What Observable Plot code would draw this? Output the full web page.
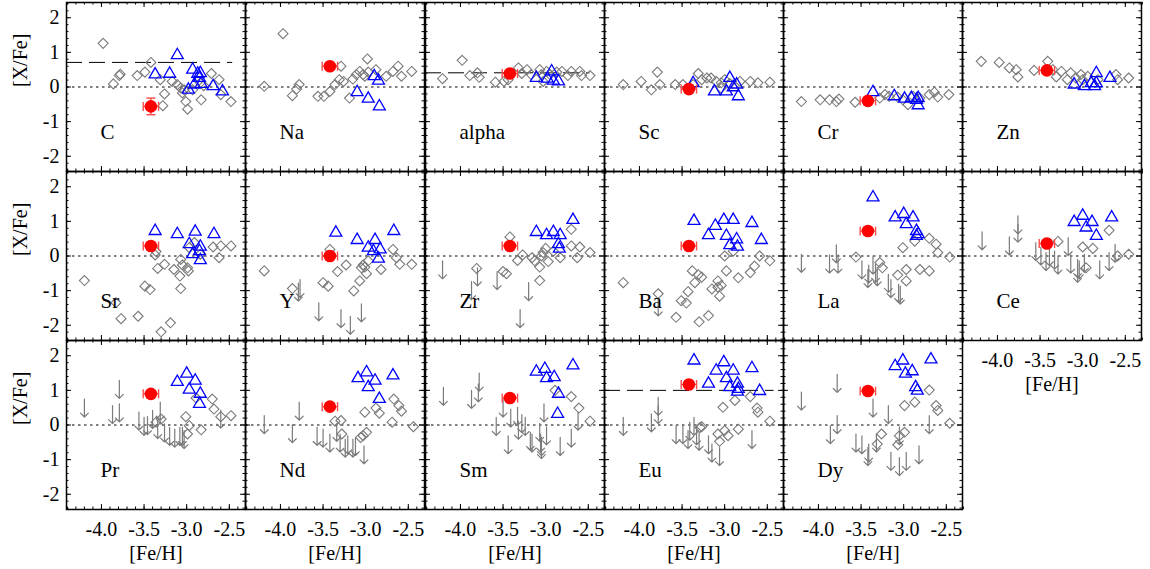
<!DOCTYPE html>
<html><head><meta charset="utf-8">
<script src="https://cdn.jsdelivr.net/npm/d3@7"></script>
<script src="https://cdn.jsdelivr.net/npm/@observablehq/plot@0.6"></script>
<style>
body{margin:0;background:#fff;}
#chart{position:relative;width:1150px;height:569px;overflow:hidden;background:#fff;}
#chart svg, #chart svg text{font-family:"Liberation Serif","Times New Roman",Times,serif !important;}
</style></head><body><div id="chart"></div>
<script>
// ---- data: [ [Fe/H], [X/Fe] ] ----
const elements = ["C","Na","alpha","Sc","Cr","Zn","Sr","Y","Zr","Ba","La","Ce","Pr","Nd","Sm","Eu","Dy"];

// the program star (red)
const starFeH = [-3.42,-3.42,-3.42,-3.42,-3.42,-3.42,-3.42,-3.42,-3.42,-3.42,-3.42,-3.42,-3.42,-3.42,-3.42,-3.42,-3.42];
const starXFe = [-0.56,0.60,0.39,-0.06,-0.40,0.48,0.29,0.00,0.29,0.29,0.72,0.36,0.90,0.53,0.78,1.17,0.98];
const starErrFeH = [0.09,0.09,0.09,0.09,0.09,0.09,0.09,0.09,0.09,0.09,0.09,0.09,0.09,0.09,0.09,0.09,0.09];
const starErrXFe = [0.24,0,0,0,0,0,0,0,0,0,0,0,0,0,0,0,0];

// dashed reference levels: element, [X/Fe], [Fe/H] end
const refElem = ["C","alpha","Eu"];
const refXFe = [0.71,0.41,1.0];
const refFeHEnd = [-2.46,-2.48,-2.42];

// comparison stars (grey diamonds), r-rich stars (blue triangles), upper limits (grey arrows)
const C_cmp = [[-3.98,1.26],[-3.86,0.09],[-3.79,0.33],[-3.78,0.37],[-3.58,0.33],[-3.49,0.43],[-3.42,0.71],[-3.31,0.21],[-3.26,-0.2],[-3.28,-0.54],[-3.17,0.16],[-3.11,0.07],[-3.07,-0.03],[-3.05,-0.17],[-3.03,-0.08],[-3.01,-0.42],[-2.99,-0.64],[-2.93,-0.08],[-2.83,-0.37],[-2.8,0.04],[-2.71,0.39],[-2.62,0.21],[-2.6,-0.22],[-2.48,-0.42],[-2.84,0.12]];
const C_tri = [[-3.37,0.41],[-3.2,0.43],[-3.11,0.97],[-2.98,-0.03],[-2.93,0.55],[-2.87,0.43],[-2.84,0.45],[-2.85,0.31],[-2.91,0.12],[-2.83,0.14],[-2.69,0.07],[-2.58,-0.08]];
const C_lim = [];

const Na_cmp = [[-3.97,1.54],[-4.19,0.02],[-3.86,-0.25],[-3.81,-0.06],[-3.78,0.07],[-3.56,-0.27],[-3.49,-0.27],[-3.42,-0.13],[-3.36,0.07],[-3.31,0.21],[-3.26,0.16],[-3.19,-0.32],[-3.15,0.23],[-3.07,0.45],[-3.03,0.36],[-3.01,0.31],[-2.98,0.81],[-2.97,0.43],[-2.88,0.5],[-2.76,0.31],[-2.68,0.45],[-2.62,0.6],[-2.58,0.31],[-2.46,0.45],[-3.29,0.6],[-3.11,0.36]];
const Na_tri = [[-3.1,-0.1],[-2.97,-0.29],[-2.9,0.36],[-2.85,0.23],[-2.84,-0.51]];
const Na_lim = [];

const alpha_cmp = [[-4.21,0.24],[-3.98,0.77],[-3.89,0.33],[-3.8,0.41],[-3.78,0.28],[-3.59,0.14],[-3.49,0.16],[-3.44,0.21],[-3.32,0.55],[-3.28,0.39],[-3.22,0.5],[-3.17,0.36],[-3.07,0.5],[-3.05,0.36],[-3.03,0.16],[-2.99,0.45],[-2.95,0.36],[-2.87,0.43],[-2.81,0.45],[-2.74,0.33],[-2.7,0.45],[-2.6,0.45],[-2.58,0.33],[-2.48,0.33]];
const alpha_tri = [[-3.11,0.31],[-2.98,0.29],[-2.93,0.5],[-2.91,0.23],[-2.85,0.21]];
const alpha_lim = [];

const Sc_cmp = [[-4.19,0.07],[-3.98,0.16],[-3.86,-0.08],[-3.79,0.43],[-3.76,0.07],[-3.58,0.07],[-3.49,0.07],[-3.37,0.07],[-3.31,0.39],[-3.27,0.21],[-3.21,0.26],[-3.16,0.26],[-3.1,0.16],[-3.04,0.12],[-3.0,0.21],[-2.94,0.1],[-2.82,0.16],[-2.7,0.16],[-2.61,0.12],[-2.47,0.14],[-3.04,-0.03]];
const Sc_tri = [[-3.37,0.16],[-3.12,-0.08],[-2.98,-0.08],[-2.94,0.31],[-2.9,0.04],[-2.86,0.12],[-2.84,-0.22]];
const Sc_lim = [];

const Cr_cmp = [[-4.2,-0.42],[-3.98,-0.37],[-3.87,-0.37],[-3.79,-0.42],[-3.76,-0.35],[-3.57,-0.44],[-3.28,-0.32],[-3.22,-0.22],[-3.17,-0.27],[-3.07,-0.29],[-3.01,-0.37],[-2.95,-0.51],[-2.89,-0.27],[-2.81,-0.32],[-2.7,-0.22],[-2.64,-0.15],[-2.6,-0.29],[-2.47,-0.22]];
const Cr_tri = [[-3.36,-0.1],[-3.11,-0.22],[-2.99,-0.29],[-2.91,-0.27],[-2.85,-0.32],[-2.83,-0.48],[-2.83,-0.27]];
const Cr_lim = [];

const Zn_cmp = [[-4.19,0.74],[-3.98,0.71],[-3.86,0.55],[-3.78,0.5],[-3.76,0.29],[-3.57,0.48],[-3.41,0.74],[-3.35,0.5],[-3.31,0.29],[-3.25,0.45],[-3.18,0.21],[-3.14,0.41],[-3.08,0.26],[-3.02,0.36],[-3.0,0.21],[-2.94,0.31],[-2.82,0.21],[-2.61,0.36],[-2.59,0.21],[-2.46,0.26]];
const Zn_tri = [[-3.1,0.12],[-2.98,0.07],[-2.9,0.16],[-2.86,0.07],[-2.84,0.45],[-2.84,0.16],[-2.68,0.31]];
const Zn_lim = [];

const Sr_cmp = [[-4.2,-0.71],[-3.83,-1.35],[-3.77,-1.81],[-3.57,-1.74],[-3.49,-0.87],[-3.43,-0.97],[-3.36,0.13],[-3.37,0.03],[-3.34,-0.36],[-3.26,-0.24],[-3.3,-2.19],[-3.19,-1.93],[-3.15,-0.39],[-3.08,-0.58],[-3.07,-0.94],[-3.05,-0.26],[-3.07,-0.1],[-2.99,-0.34],[-2.98,-0.43],[-2.97,0.24],[-2.91,0.39],[-2.84,0.05],[-2.69,0.26],[-2.62,-0.05],[-2.6,0.29],[-2.48,0.29]];
const Sr_tri = [[-3.37,0.77],[-3.11,0.68],[-2.9,0.75],[-2.97,0.39],[-2.84,0.32],[-2.85,0.19],[-2.93,0.1],[-2.84,-0.07],[-2.68,0.68]];
const Sr_lim = [];

const Y_cmp = [[-4.19,-0.43],[-3.86,-0.94],[-3.5,-0.77],[-3.44,-0.87],[-3.42,0.19],[-3.33,-0.45],[-3.23,-0.26],[-3.14,-1.01],[-3.07,-0.72],[-3.05,-0.34],[-3.03,-0.26],[-2.99,-0.51],[-2.97,-0.14],[-2.82,-0.39],[-2.68,0.19],[-2.64,-0.05],[-2.6,-0.24],[-2.46,-0.24],[-3.01,-0.32]];
const Y_tri = [[-3.35,0.72],[-3.1,0.51],[-2.97,0.29],[-2.89,0.51],[-2.91,0.19],[-2.83,0.24],[-2.85,-0.03],[-2.67,0.77]];
const Y_lim = [[-3.77,-0.68],[-3.79,-0.78],[-3.55,-1.35],[-3.29,-1.55],[-3.18,-1.74],[-3.05,-1.38]];

const Zr_cmp = [[-3.81,-0.36],[-3.5,-0.45],[-3.46,-0.51],[-3.42,0.55],[-3.33,-0.13],[-3.27,0.03],[-3.16,-0.05],[-3.13,-0.14],[-3.07,-0.71],[-3.07,-0.32],[-3.05,0],[-3.03,0.1],[-3.0,0.22],[-2.97,-0.16],[-2.91,0.14],[-2.83,-0.05],[-2.7,0.77],[-2.7,0.29],[-2.63,-0.05],[-2.6,0.26],[-2.48,0.1]];
const Zr_tri = [[-3.11,0.74],[-2.99,0.65],[-2.91,0.74],[-2.83,0.65],[-2.85,0.39],[-2.84,0.26],[-2.68,1.09]];
const Zr_lim = [[-4.21,-0.14],[-3.87,-0.74],[-3.8,-0.34],[-3.57,-0.45],[-3.2,-0.77],[-3.3,-1.55]];

const Ba_cmp = [[-4.19,-0.77],[-3.78,-1.09],[-3.57,-1.77],[-3.51,-1.29],[-3.45,-1.36],[-3.43,-1.03],[-3.38,-0.43],[-3.35,-0.77],[-3.31,-0.54],[-3.27,-0.61],[-3.3,-1.9],[-3.19,-1.72],[-3.15,-0.95],[-3.08,-0.72],[-3.08,-0.9],[-3.06,-1.16],[-3.04,-0.85],[-3.0,0],[-2.98,-0.43],[-2.9,0.14],[-2.84,-0.63],[-2.7,-0.48],[-2.65,-0.29],[-2.59,0],[-2.47,-0.14]];
const Ba_tri = [[-3.36,1.06],[-3.19,0.65],[-3.11,0.92],[-3.01,1.09],[-2.9,1.09],[-2.98,0.63],[-2.94,0.36],[-2.86,0.53],[-2.85,0.32],[-2.68,1.0],[-2.57,0.51]];
const Ba_lim = [[-3.78,-1.21]];

const La_cmp = [[-3.56,-0.03],[-3.28,-0.19],[-3.25,-0.34],[-3.07,-0.55],[-3.01,0.24],[-2.97,-0.39],[-2.97,-0.72],[-2.87,0.43],[-2.81,-0.39],[-2.7,0.51],[-2.7,-0.43],[-2.62,0.34],[-2.6,0.1],[-2.46,-0.03]];
const La_tri = [[-3.36,1.74],[-3.1,1.16],[-3.0,1.26],[-2.89,1.16],[-2.97,0.97],[-2.85,0.77],[-2.85,0.63],[-2.83,0.68]];
const La_lim = [[-4.2,0.05],[-3.87,0.03],[-3.79,0.32],[-3.77,0.03],[-3.49,-0.14],[-3.41,-0.26],[-3.42,-0.39],[-3.36,0],[-3.33,-0.24],[-3.31,-0.34],[-3.18,-0.53],[-3.15,-0.68],[-3.06,-0.82],[-3.04,-0.87]];

const Ce_cmp = [[-3.29,0.42],[-3.0,0.26],[-2.88,0.22],[-2.96,-0.34],[-2.69,0.74],[-2.59,0],[-2.46,0.05]];
const Ce_tri = [[-3.1,1.03],[-3.0,1.21],[-2.96,0.87],[-2.89,1.03],[-2.84,0.63],[-2.66,1.16]];
const Ce_lim = [[-4.18,0.7],[-3.86,0.55],[-3.76,1.16],[-3.76,0.92],[-3.55,0.39],[-3.49,0.26],[-3.43,0.1],[-3.39,0.24],[-3.33,0.14],[-3.29,0],[-3.17,0.53],[-3.14,0.03],[-3.06,-0.24],[-3.06,-0.1],[-3.04,-0.14],[-2.98,0.05],[-2.8,-0.14],[-2.69,0.1],[-2.62,0.34]];

const Pr_cmp = [[-3.36,0.08],[-3.3,0.17],[-3.01,0.24],[-2.97,-0.02],[-2.99,-0.26],[-2.89,0.78],[-2.83,-0.14],[-2.7,0.75],[-2.68,0.46],[-2.6,0.24],[-2.48,0.27]];
const Pr_tri = [[-3.11,1.29],[-3.0,1.53],[-2.97,1.07],[-2.9,1.33],[-2.84,0.95],[-2.85,0.66]];
const Pr_lim = [[-4.2,0.75],[-3.87,0.56],[-3.79,0.61],[-3.79,1.29],[-3.56,0.37],[-3.5,0.22],[-3.46,0.24],[-3.4,0.42],[-3.34,0.13],[-3.31,0.66],[-3.26,0.03],[-3.2,-0.07],[-3.14,-0.12],[-3.08,-0.07],[-3.05,-0.07],[-3.03,-0.16],[-2.6,0.43]];

const Nd_cmp = [[-3.36,0.11],[-3.29,0.13],[-3.28,-0.26],[-3.06,-0.36],[-3.03,-0.31],[-2.99,-0.21],[-3.01,0.37],[-2.88,0.49],[-2.84,0.34],[-2.69,0.08],[-2.67,0.75],[-2.61,0.56],[-2.58,0.4],[-2.44,-0.05]];
const Nd_tri = [[-3.09,1.4],[-2.99,1.57],[-2.97,1.14],[-2.89,1.33],[-2.84,0.8],[-2.68,1.48]];
const Nd_lim = [[-4.19,0.27],[-3.86,0.01],[-3.78,0.66],[-3.57,-0.07],[-3.5,-0.12],[-3.42,-0.26],[-3.34,0.05],[-3.3,-0.26],[-3.24,-0.41],[-3.21,-0.31],[-3.15,-0.41],[-3.12,-0.36],[-3.02,-0.6]];

const Sm_cmp = [[-2.89,1.0],[-2.7,0.82],[-2.61,0.49],[-2.48,0.11]];
const Sm_tri = [[-3.11,1.59],[-3.01,1.67],[-2.99,1.4],[-2.9,1.43],[-2.85,0.95],[-2.86,0.37],[-2.68,1.77]];
const Sm_lim = [[-4.2,1.09],[-3.87,1.0],[-3.79,1.19],[-3.78,1.5],[-3.58,0.22],[-3.5,0.75],[-3.44,-0.31],[-3.41,0.46],[-3.33,0.51],[-3.32,0.11],[-3.28,0.3],[-3.24,0.22],[-3.18,-0.21],[-3.16,-0.26],[-3.07,0.05],[-3.06,-0.26],[-3.05,-0.36],[-3.02,0.61],[-2.99,-0.05],[-2.83,-0.36],[-2.7,-0.12],[-2.62,0.37],[-3.05,-0.45]];

const Eu_cmp = [[-3.29,-0.07],[-3.27,-0.05],[-3.08,-0.26],[-3.06,-0.47],[-3.02,0.51],[-3.0,-0.16],[-2.96,-0.31],[-2.88,0.71],[-2.84,-0.12],[-2.7,0.82],[-2.62,0.49],[-2.61,0.37],[-2.47,0.11]];
const Eu_tri = [[-3.36,1.91],[-3.19,1.24],[-3.1,1.62],[-3.01,1.86],[-2.98,1.4],[-2.9,1.62],[-2.94,1.14],[-2.85,1.24],[-2.85,1.01],[-2.84,1.09],[-2.68,1.69],[-2.59,1.03]];
const Eu_lim = [[-4.19,0.22],[-3.86,0.32],[-3.78,0.8],[-3.78,0.56],[-3.57,-0.02],[-3.49,-0.02],[-3.43,-0.16],[-3.41,0.08],[-3.36,0.22],[-3.33,-0.05],[-3.3,-0.21],[-3.19,-0.31],[-3.15,-0.55],[-3.06,-0.65],[-2.68,-0.16]];

const Dy_cmp = [[-3.26,-0.26],[-3.31,-0.55],[-3.07,-0.57],[-3.05,-0.31],[-2.99,-0.21],[-2.99,0.56],[-2.87,0.66],[-2.7,1.01],[-2.62,0.56],[-2.6,0.42],[-2.46,0.05]];
const Dy_tri = [[-3.1,1.75],[-3.01,1.91],[-2.98,1.53],[-2.9,1.6],[-2.86,1.14],[-2.84,1.04],[-2.68,1.94]];
const Dy_lim = [[-4.2,0.95],[-3.86,-0.02],[-3.78,1.46],[-3.78,0.27],[-3.56,-0.26],[-3.49,-0.31],[-3.42,-0.65],[-3.41,-0.55],[-3.36,0.75],[-3.32,-0.26],[-3.18,0.56],[-3.15,-0.79],[-3.05,-0.94],[-3.05,-0.05],[-2.97,-0.79],[-2.82,-0.6],[-2.7,0.27]];

// axis ticks
const xTickValues = [-4.0,-3.5,-3.0,-2.5];
const yTickValues = [-2,-1,0,1,2];
const xLabel = "[Fe/H]";
const yLabel = "[X/Fe]";

const comparison = [C_cmp,Na_cmp,alpha_cmp,Sc_cmp,Cr_cmp,Zn_cmp,Sr_cmp,Y_cmp,Zr_cmp,Ba_cmp,La_cmp,Ce_cmp,Pr_cmp,Nd_cmp,Sm_cmp,Eu_cmp,Dy_cmp];
const rrich = [C_tri,Na_tri,alpha_tri,Sc_tri,Cr_tri,Zn_tri,Sr_tri,Y_tri,Zr_tri,Ba_tri,La_tri,Ce_tri,Pr_tri,Nd_tri,Sm_tri,Eu_tri,Dy_tri];
const limits = [C_lim,Na_lim,alpha_lim,Sc_lim,Cr_lim,Zn_lim,Sr_lim,Y_lim,Zr_lim,Ba_lim,La_lim,Ce_lim,Pr_lim,Nd_lim,Sm_lim,Eu_lim,Dy_lim];

// ---- layout ----
const XD = [-4.41, -2.31], YD = [-2.44, 2.44];
const colX = [66, 245, 425, 604, 783, 962], rowY = [2, 171, 340];
const PW = 179, PH = 169;
const FONT = '"Liberation Serif","Times New Roman",Times,serif';
const grey = "#7a7a7a", blue = "#0000ff", red = "#ff0000", errRed = "#ff4a4a";
const xMinor = d3.range(-44, -22).map(d => d / 10);
const yMinor = d3.range(-12, 13).map(d => d / 5);
const chart = document.getElementById("chart");

elements.forEach((el, i) => {
  const col = i % 6, row = Math.floor(i / 6);
  const showY = col === 0;
  const showX = row === 2 || el === "Ce";
  const ml = showY ? 70 : 2, mr = 2, mt = 2, mb = showX ? 62 : 2;
  const pxX = (XD[1] - XD[0]) / PW, pxY = (YD[1] - YD[0]) / PH;
  const pts = a => a.map(([x, y]) => ({x, y}));
  const star = [{x: starFeH[i], y: starXFe[i], ex: starErrFeH[i], ey: starErrXFe[i]}];
  const caps = star.flatMap(d => [{x: d.x - d.ex, y: d.y}, {x: d.x + d.ex, y: d.y}]);
  const refs = refElem.map((e, k) => ({e, y: refXFe[k], x2: refFeHEnd[k]})).filter(d => d.e === el);

  const marks = [
    // inward ticks (IDL style) on all four sides
    Plot.tickX(xTickValues, {x: d => d, insetTop: PH - 5, stroke: "black", strokeWidth: 1}),
    Plot.tickX(xTickValues, {x: d => d, insetBottom: PH - 5, stroke: "black", strokeWidth: 1}),
    Plot.tickX(xMinor, {x: d => d, insetTop: PH - 2.5, stroke: "black", strokeWidth: 1}),
    Plot.tickX(xMinor, {x: d => d, insetBottom: PH - 2.5, stroke: "black", strokeWidth: 1}),
    Plot.tickY(yTickValues, {y: d => d, insetRight: PW - 5, stroke: "black", strokeWidth: 1}),
    Plot.tickY(yTickValues, {y: d => d, insetLeft: PW - 5, stroke: "black", strokeWidth: 1}),
    Plot.tickY(yMinor, {y: d => d, insetRight: PW - 2.5, stroke: "black", strokeWidth: 1}),
    Plot.tickY(yMinor, {y: d => d, insetLeft: PW - 2.5, stroke: "black", strokeWidth: 1}),
    Plot.ruleY([0], {stroke: "black", strokeWidth: 1, strokeDasharray: "2.5,3.5"}),
    Plot.ruleY(refs, {y: "y", x1: XD[0], x2: "x2", stroke: "black", strokeWidth: 1, strokeDasharray: "16,7"}),
    Plot.dot(pts(comparison[i]), {x: "x", y: "y", symbol: "diamond2", r: 4.5, stroke: grey, strokeWidth: 1.1}),
    Plot.vector(pts(limits[i]), {x: "x", y: "y", rotate: 180, length: 18, anchor: "start", r: 3.8, stroke: grey, strokeWidth: 1.2}),
    Plot.dot(pts(rrich[i]), {x: "x", y: "y", symbol: "triangle2", r: 5.7, dy: 1.7, stroke: blue, strokeWidth: 1.3}),
    // red star with error bars
    Plot.link(star, {x1: d => d.x - d.ex, x2: d => d.x + d.ex, y1: "y", y2: "y", stroke: errRed, strokeWidth: 1.4}),
    Plot.link(caps, {x1: "x", x2: "x", y1: d => d.y - 4.5 * pxY, y2: d => d.y + 4.5 * pxY, stroke: errRed, strokeWidth: 1.4}),
    Plot.link(star.filter(d => d.ey > 0), {x1: "x", x2: "x", y1: d => d.y - d.ey, y2: d => d.y + d.ey, stroke: errRed, strokeWidth: 1.4}),
    Plot.link(star.filter(d => d.ey > 0).flatMap(d => [d.y - d.ey, d.y + d.ey].map(y => ({x: d.x, y}))), {x1: d => d.x - 4.5 * pxX, x2: d => d.x + 4.5 * pxX, y1: "y", y2: "y", stroke: errRed, strokeWidth: 1.4}),
    Plot.dot(star, {x: "x", y: "y", r: 6.3, fill: red}),
    Plot.text([{t: el, y: -1.5}], {y: "y", text: "t", frameAnchor: "left", dx: 34, textAnchor: "start", lineAnchor: "bottom", fontSize: 21, fontFamily: FONT, fill: "black"}),
    Plot.frame({stroke: "black", strokeWidth: 1.5})
  ];
  if (showY) {
    marks.push(
      Plot.text(yTickValues, {y: d => d, text: d => String(d), frameAnchor: "left", dx: -7, textAnchor: "end", fontSize: 20, fontFamily: FONT, fill: "black"}),
      Plot.text([yLabel], {frameAnchor: "left", dx: -46, rotate: -90, fontSize: 20, fontFamily: FONT, fill: "black"})
    );
  }
  if (showX) {
    marks.push(
      Plot.text(xTickValues, {x: d => d, text: d => d.toFixed(1), frameAnchor: "bottom", dy: 12, lineAnchor: "top", fontSize: 20, fontFamily: FONT, fill: "black"}),
      Plot.text([xLabel], {frameAnchor: "bottom", dy: 36, lineAnchor: "top", fontSize: 20, fontFamily: FONT, fill: "black"})
    );
  }
  const svg = Plot.plot({
    width: PW + ml + mr, height: PH + mt + mb,
    marginLeft: ml, marginRight: mr, marginTop: mt, marginBottom: mb,
    x: {domain: XD, axis: null},
    y: {domain: YD, axis: null},
    style: {background: "transparent", overflow: "visible", fontFamily: FONT, fontSize: "20px"},
    marks
  });
  svg.style.position = "absolute";
  svg.style.left = (colX[col] - ml) + "px";
  svg.style.top = (rowY[row] - mt) + "px";
  svg.style.maxWidth = "none";
  chart.appendChild(svg);
});
</script></body></html>
